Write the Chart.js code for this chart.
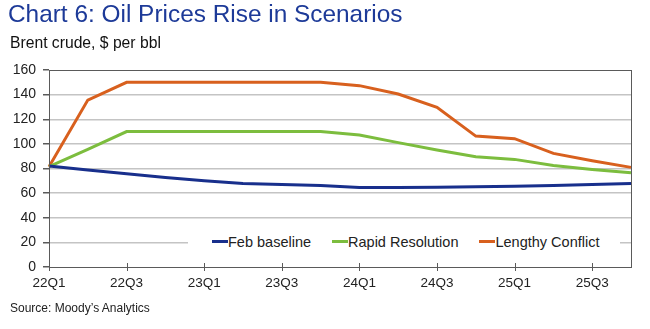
<!DOCTYPE html>
<html>
<head>
<meta charset="utf-8">
<script src="https://cdn.jsdelivr.net/npm/chart.js@4"></script>
<style>
	body { margin: 0; background: #fff; font-family: 'Liberation Sans', Arial, sans-serif; }
	#wrap { position: relative; width: 650px; height: 329px; overflow: hidden; }
	#chartOil { position: absolute; left: 0; top: 0; }
	.title { position: absolute; left: 8px; top: 0px; font-size: 24.4px; color: #1d3a98; white-space: nowrap; }
	.subtitle { position: absolute; left: 10px; top: 34px; font-size: 15.7px; color: #111; white-space: nowrap; }
	.source { position: absolute; left: 10px; top: 301px; font-size: 12px; color: #222; white-space: nowrap; }
	#legend { position: absolute; left: 188px; top: 232px; width: 432px; height: 19px; background: #fff; display: flex; align-items: center; padding-left: 24px; box-sizing: border-box; font-size: 14.5px; color: #222; white-space: nowrap; }
	#legend .item { display: flex; align-items: center; margin-right: 21px; flex-shrink: 0; }
	#legend .swatch { width: 16px; height: 3px; flex-shrink: 0; }
</style>
</head>
<body>
<div id="wrap">
	<canvas id="chartOil" width="650" height="329"></canvas>
	<div class="title">Chart 6: Oil Prices Rise in Scenarios</div>
	<div class="subtitle">Brent crude, $ per bbl</div>
	<div id="legend"></div>
	<div class="source">Source: Moody’s Analytics</div>
</div>
<script>
	// quarters 22Q1 .. 25Q4
	var quarters = ['22Q1','22Q2','22Q3','22Q4','23Q1','23Q2','23Q3','23Q4',
		'24Q1','24Q2','24Q3','24Q4','25Q1','25Q2','25Q3','25Q4'];

	var febBaseline = [82, 78.7, 75.7, 72.7, 70, 67.8, 67, 66.2, 64.6, 64.6, 64.8, 65.1, 65.6, 66.2, 67, 67.8];
	var rapidResolution = [81.5, 95.5, 110, 110, 110, 110, 110, 110, 107.2, 101, 95, 89.5, 87.4, 82.5, 79.2, 76.5];
	var lengthyConflict = [81.5, 135.6, 150, 150, 150, 150, 150, 150, 147.3, 140.5, 129.7, 106.3, 104.2, 92.3, 86.3, 80.9];

	var yTicks = [0, 20, 40, 60, 80, 100, 120, 140, 160];

	var seriesNames = ['Feb baseline', 'Rapid Resolution', 'Lengthy Conflict'];
	var seriesColors = ['#182f8c', '#7cbd3e', '#d8601e'];

	var axisColor = '#5a5a5a';

	// box round the plot area + crossing tick marks on the x axis
	var frame = {
		id: 'frame',
		afterDraw: function(chart) {
			var ctx = chart.ctx, a = chart.chartArea, xs = chart.scales.x;
			ctx.save();
			ctx.strokeStyle = axisColor;
			ctx.lineWidth = 1;
			ctx.strokeRect(a.left + 0.5, a.top + 0.5, a.right - a.left, a.bottom - a.top);
			for (var i = 0; i < quarters.length; i += 2) {
				var x = Math.round(xs.getPixelForValue(i)) + 0.5;
				ctx.beginPath();
				ctx.moveTo(x, a.bottom - 4);
				ctx.lineTo(x, a.bottom + 4);
				ctx.stroke();
			}
			ctx.restore();
		}
	};

	var sets = [febBaseline, rapidResolution, lengthyConflict].map(function(d, i) {
		return {
			label: seriesNames[i],
			data: d,
			borderColor: seriesColors[i],
			backgroundColor: seriesColors[i],
			borderWidth: 3,
			pointRadius: 0,
			tension: 0,
			fill: false
		};
	});

	var myChart = new Chart(document.getElementById('chartOil'), {
		type: 'line',
		data: { labels: quarters, datasets: sets },
		plugins: [frame],
		options: {
			responsive: false,
			animation: false,
			layout: { padding: { top: 70, right: 19, bottom: 30, left: 0 } },
			font: { family: "'Liberation Sans', Arial, sans-serif" },
			plugins: {
				legend: { display: false },
				tooltip: { enabled: false }
			},
			scales: {
				x: {
					offset: false,
					border: { display: true, color: axisColor },
					grid: { display: false, drawTicks: false },
					ticks: {
						autoSkip: false,
						maxRotation: 0,
						padding: 8,
						color: '#222',
						font: { family: "'Liberation Sans', Arial, sans-serif", size: 13.5 },
						callback: function(v, i) { return i % 2 === 0 ? quarters[i] : ''; }
					},
					afterFit: function(s) { s.height = 32; }
				},
				y: {
					min: yTicks[0],
					max: yTicks[yTicks.length - 1],
					border: { display: true, color: axisColor },
					grid: {
						color: function(c) { return (c.tick.value === 0 || c.tick.value === 160) ? 'rgba(0,0,0,0)' : '#c4c4c4'; },
						lineWidth: 1.5,
						tickLength: 6,
						tickColor: axisColor
					},
					afterBuildTicks: function(s) { s.ticks = yTicks.map(function(v) { return { value: v }; }); },
					ticks: {
						padding: 7,
						color: '#222',
						font: { size: 14 }
					},
					afterFit: function(s) { s.width = 49; }
				}
			}
		}
	});

	// legend sits inside the plot, over the 20 gridline
	var legendEl = document.getElementById('legend');
	sets.forEach(function(s) {
		var item = document.createElement('div');
		item.className = 'item';
		item.innerHTML = '<span class="swatch" style="background:' + s.borderColor + '"></span><span>' + s.label + '</span>';
		legendEl.appendChild(item);
	});
</script>
</body>
</html>
